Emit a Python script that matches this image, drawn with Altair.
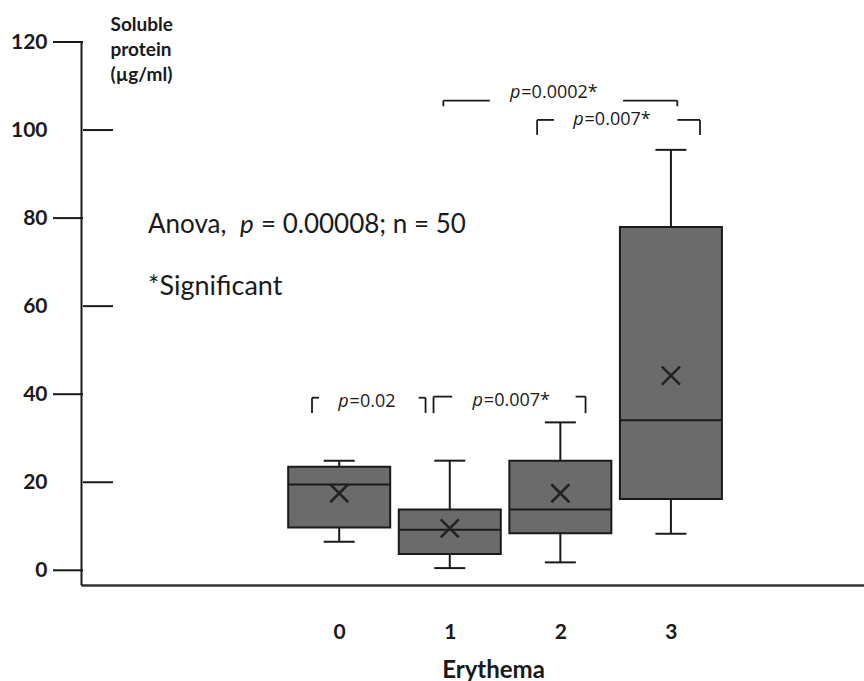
import altair as alt
import pandas as pd

# ---- box-plot summary values ----
categories = [0, 1, 2, 3]
whisker_low = [6.5, 0.5, 1.8, 8.3]
q1 = [9.7, 3.7, 8.4, 16.2]
median = [19.5, 9.2, 13.8, 34.1]
q3 = [23.5, 13.8, 24.9, 78.0]
whisker_high = [24.9, 24.9, 33.6, 95.5]
means = [17.5, 9.5, 17.5, 44.2]

# ---- y axis ticks ----
y_ticks = [0, 20, 40, 60, 80, 100, 120]
y_ticks_outer = [0, 40, 80, 120]
y_ticks_inner = [20, 60, 100]

# ---- pairwise comparison brackets (x in category units, y in µg/ml) ----
cmp_left = [-0.246, 0.853, 0.942, 1.79]
cmp_left_stub = [-0.183, 1.022, 1.362, 1.942]
cmp_right_stub = [0.719, 2.138, 2.567, 3.058]
cmp_right = [0.781, 2.228, 3.058, 3.263]
cmp_top = [39.2, 39.45, 106.7, 102.3]
cmp_bottom = [35.75, 35.7, 105.4, 98.9]
cmp_split = [0.094, 1.308, 1.647, 2.219]
cmp_text_y = [37.2, 37.3, 107.2, 101.1]
cmp_text = ["=0.02", "=0.007*", "=0.0002*", "=0.007*"]

boxes = pd.DataFrame({
    "cat": categories, "lo": whisker_low, "q1": q1, "med": median,
    "q3": q3, "hi": whisker_high, "mean": means,
})

seg_rows = []
for i in range(len(cmp_text)):
    seg_rows.append({"x": cmp_left[i], "x2": cmp_left_stub[i], "y": cmp_top[i], "y2": cmp_top[i]})
    seg_rows.append({"x": cmp_right_stub[i], "x2": cmp_right[i], "y": cmp_top[i], "y2": cmp_top[i]})
    seg_rows.append({"x": cmp_left[i], "x2": cmp_left[i], "y": cmp_top[i], "y2": cmp_bottom[i]})
    seg_rows.append({"x": cmp_right[i], "x2": cmp_right[i], "y": cmp_top[i], "y2": cmp_bottom[i]})
segs = pd.DataFrame(seg_rows)

labels = pd.DataFrame({"x": cmp_split, "y": cmp_text_y, "t": cmp_text})

outer_df = pd.DataFrame({"v": y_ticks_outer})
inner_df = pd.DataFrame({"v": y_ticks_inner})

FONT = "Lato"
INK = "#1a1a1a"

xs = alt.Scale(domain=[-2.290, 4.701], nice=False, zero=False)
ys = alt.Scale(domain=[-3.34, 120], nice=False, zero=False)

x_axis = alt.Axis(values=categories, ticks=False, grid=False, format="d",
                  domainColor="#333333", domainWidth=2.5,
                  labelFont=FONT, labelFontWeight="bold", labelFontSize=21,
                  labelColor=INK, labelPadding=36,
                  title="Erythema", titleFont=FONT, titleFontWeight="bold",
                  titleFontSize=24, titleColor=INK, titleX=412, titleY=92,
                  titleBaseline="alphabetic", titleAlign="center")
y_axis = alt.Axis(values=y_ticks, ticks=False, grid=False,
                  domainColor=INK, domainWidth=2,
                  labelFont=FONT, labelFontWeight="bold", labelFontSize=21,
                  labelColor=INK, labelPadding=34,
                  title=["Soluble", "protein", "(µg/ml)"], titleAngle=0,
                  titleAlign="left", titleBaseline="alphabetic",
                  titleX=29, titleY=-12, titleFont=FONT, titleFontSize=19,
                  titleFontWeight="bold", titleColor=INK, titleLineHeight=25)


def X(field):
    return alt.X(field, type="quantitative", scale=xs, axis=x_axis)


def Y(field):
    return alt.Y(field, type="quantitative", scale=ys, axis=y_axis)


base = alt.Chart(boxes)

whisk_lo = base.mark_rule(color=INK, strokeWidth=2).encode(
    x=X("cat"), y=Y("lo"), y2="q1:Q")
whisk_hi = base.mark_rule(color=INK, strokeWidth=2).encode(
    x=X("cat"), y=Y("q3"), y2="hi:Q")
box = base.mark_bar(size=102, color="#6b6b6b", stroke=INK, strokeWidth=2).encode(
    x=X("cat"), y=Y("q1"), y2="q3:Q")
med = base.mark_tick(orient="horizontal", size=102, thickness=2, color=INK, opacity=1).encode(
    x=X("cat"), y=Y("med"))
cap_lo = base.mark_tick(orient="horizontal", size=31, thickness=2, color=INK, opacity=1).encode(
    x=X("cat"), y=Y("lo"))
cap_hi = base.mark_tick(orient="horizontal", size=31, thickness=2, color=INK, opacity=1).encode(
    x=X("cat"), y=Y("hi"))
mean_x = base.mark_point(shape="M-1,-1L1,1M-1,1L1,-1", size=324, filled=False,
                         stroke="#222222", strokeWidth=2.5, opacity=1).encode(
    x=X("cat"), y=Y("mean"))

# y-axis ticks, alternating outside / inside
tick_out = alt.Chart(outer_df).mark_rule(color=INK, strokeWidth=2).encode(
    x=alt.value(-28), x2=alt.value(2), y=Y("v"))
tick_in = alt.Chart(inner_df).mark_rule(color=INK, strokeWidth=2).encode(
    x=alt.value(2), x2=alt.value(32), y=Y("v"))

# comparison brackets
brackets = alt.Chart(segs).mark_rule(color=INK, strokeWidth=1.8).encode(
    x=X("x"), x2="x2:Q", y=Y("y"), y2="y2:Q")
p_italic = alt.Chart(labels).mark_text(align="right", baseline="alphabetic",
                                       font="Open Sans", fontStyle="italic",
                                       fontSize=18, color=INK, dx=-1).encode(
    x=X("x"), y=Y("y"), text=alt.value("p"))
p_value = alt.Chart(labels).mark_text(align="left", baseline="alphabetic",
                                      font="Open Sans", fontSize=18, color=INK).encode(
    x=X("x"), y=Y("y"), text="t:N")

# free annotations
one = alt.Data(values=[{"a": 1}])
anova_a = alt.Chart(one).mark_text(align="left", baseline="alphabetic", font=FONT,
                                   fontSize=26, color=INK).encode(
    x=alt.value(67), y=alt.value(191), text=alt.value("Anova,"))
anova_p = alt.Chart(one).mark_text(align="left", baseline="alphabetic", font=FONT,
                                   fontSize=26, fontStyle="italic", color=INK).encode(
    x=alt.value(159), y=alt.value(191), text=alt.value("p"))
anova_b = alt.Chart(one).mark_text(align="left", baseline="alphabetic", font=FONT,
                                   fontSize=26, color=INK).encode(
    x=alt.value(180), y=alt.value(191), text=alt.value("= 0.00008; n = 50"))
signif = alt.Chart(one).mark_text(align="left", baseline="alphabetic", font=FONT,
                                  fontSize=27, color=INK).encode(
    x=alt.value(67), y=alt.value(253), text=alt.value("*Significant"))

chart = alt.layer(
    whisk_lo, whisk_hi, box, med, cap_lo, cap_hi, mean_x,
    tick_out, tick_in, brackets, p_italic, p_value,
    anova_a, anova_p, anova_b, signif,
).properties(
    width=783, height=543,
    autosize=alt.AutoSizeParams(type="none"),
    padding={"left": 81, "top": 42, "right": 0, "bottom": 96},
    background="white",
).configure_view(stroke="transparent")

chart.save("out.html", embed_options={"renderer": "svg", "actions": False})
